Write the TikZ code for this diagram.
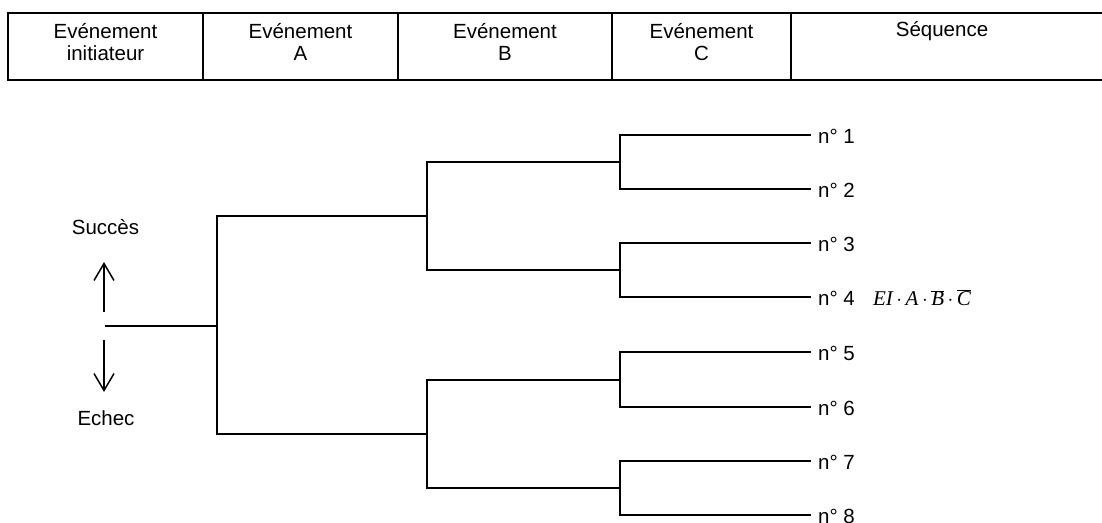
\documentclass[tikz,border=0pt]{standalone}
\usepackage{fontspec}
\setmainfont{Liberation Sans}
\newfontfamily\tms{Liberation Serif}
\usetikzlibrary{arrows.meta}
\begin{document}
\begin{tikzpicture}[x=1pt,y=-1pt,
  frame/.style={line width=1.5pt},
  tree/.style={line width=1.5pt},
  hdr/.style={align=center,font=\fontsize{20.5}{22}\selectfont,inner sep=0pt},
  lab/.style={anchor=west,font=\fontsize{20.5}{22}\selectfont,inner sep=0pt},
  arr/.style={line width=1.5pt,-{Straight Barb[length=17pt,width=20pt]}}]
\useasboundingbox (0,0) rectangle (1102,522);
% header table
\coordinate (tl) at (8,13);
\coordinate (br) at (1110,80);
\draw[frame] (tl) rectangle (br);
\foreach \x in {203,398,612,791} \draw[frame] (\x,13) -- (\x,80);
\node[hdr] (h0) at (105.5,42) {Evénement\\initiateur};
\node[hdr] (h1) at (300.5,42) {Evénement\\A};
\node[hdr] (h2) at (505,42) {Evénement\\B};
\node[hdr] (h3) at (701.5,42) {Evénement\\C};
\node[hdr] (h4) at (942,31) {Séquence};
% tree
\coordinate (r) at (105,326);
\coordinate (n0) at (217,326);
\coordinate (A1) at (427,216);
\coordinate (A2) at (427,434);
\coordinate (B1) at (620,162);
\coordinate (B2) at (620,270);
\coordinate (B3) at (620,380);
\coordinate (B4) at (620,488);
\foreach \i/\y in {1/135,2/189,3/243,4/297,5/352,6/407,7/461,8/515}
  \coordinate (L\i) at (811,\y);
\draw[tree] (r) -- (n0);
\draw[tree] (n0) |- (A1);
\draw[tree] (n0) |- (A2);
\draw[tree] (A1) |- (B1);
\draw[tree] (A1) |- (B2);
\draw[tree] (A2) |- (B3);
\draw[tree] (A2) |- (B4);
\draw[tree] (B1) |- (L1);
\draw[tree] (B1) |- (L2);
\draw[tree] (B2) |- (L3);
\draw[tree] (B2) |- (L4);
\draw[tree] (B3) |- (L5);
\draw[tree] (B3) |- (L6);
\draw[tree] (B4) |- (L7);
\draw[tree] (B4) |- (L8);
\foreach \i in {1,...,8}
  \node[lab] (t\i) at ([xshift=7pt,yshift=-1pt]L\i) {n° \i};
% formula
\node[font=\fontsize{21}{24}\selectfont\tms\itshape] (f) at (922,298)
  {EI\,$\cdot$\,A\,$\cdot$\,$\overline{\hbox{\tms\itshape B}}$\,$\cdot$\,$\overline{\hbox{\tms\itshape C}}$};
% success / failure
\coordinate (u0) at (104,312);
\coordinate (u1) at (104,262);
\coordinate (d0) at (104,340);
\coordinate (d1) at (104,392);
\draw[arr] (u0) -- (u1);
\draw[arr] (d0) -- (d1);
\node[lab,anchor=center] (s) at (105.5,227) {Succès};
\node[lab,anchor=center] (e) at (106,418) {Echec};
\end{tikzpicture}
\end{document}
